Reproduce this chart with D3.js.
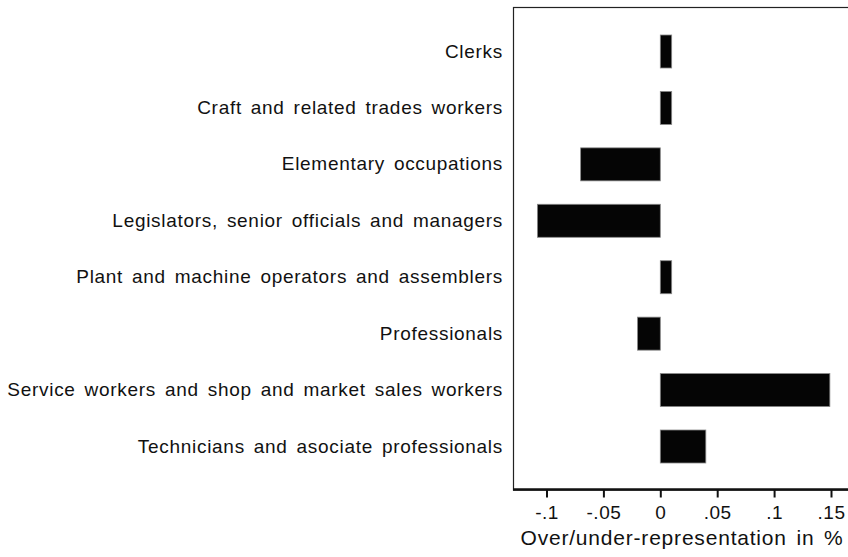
<!DOCTYPE html>
<html><head><meta charset="utf-8">
<script src="https://cdn.jsdelivr.net/npm/d3@7"></script>
<style>html,body{margin:0;padding:0;background:#fff;}svg{display:block;}</style>
</head><body>
<script>
const categories = [
  "Clerks",
  "Craft and related trades workers",
  "Elementary occupations",
  "Legislators, senior officials and managers",
  "Plant and machine operators and assemblers",
  "Professionals",
  "Service workers and shop and market sales workers",
  "Technicians and asociate professionals"
];
const values = [0.010, 0.010, -0.070, -0.108, 0.010, -0.020, 0.149, 0.040];
const tickValues = [-0.1, -0.05, 0, 0.05, 0.1, 0.15];
const tickLabels = ["-.1", "-.05", "0", ".05", ".1", ".15"];
const xTitle = "Over/under-representation in %";

const W = 848, H = 557;
const svg = d3.select("body").append("svg").attr("width", W).attr("height", H);
const font = "'Liberation Sans', Arial, sans-serif";

const plotLeft = 513, plotTop = 7, plotBottom = 489.5, plotRight = 870;
const x = d3.scaleLinear().domain([0, 0.15]).range([660.3, 831]);
const y = d3.scalePoint().domain(categories).range([51.5, 446.5]);
const barH = 33;

// frame
svg.append("rect").attr("x", plotLeft + 0.5).attr("y", plotTop + 0.5)
  .attr("width", plotRight - plotLeft).attr("height", plotBottom - plotTop)
  .attr("fill", "none").attr("stroke", "#222").attr("stroke-width", 1.2);

// bars
svg.append("g").selectAll("rect").data(categories).join("rect")
  .attr("x", (d, i) => x(Math.min(0, values[i])))
  .attr("y", d => y(d) - barH / 2)
  .attr("width", (d, i) => Math.abs(x(values[i]) - x(0)))
  .attr("height", barH)
  .attr("fill", "#050505").attr("stroke", "#888").attr("stroke-width", 0.8);

// category labels
svg.append("g").selectAll("text").data(categories).join("text")
  .attr("x", 503).attr("y", d => y(d)).attr("dy", "0.32em")
  .attr("text-anchor", "end").attr("font-family", font).attr("font-size", 19)
  .attr("letter-spacing", 0.7).attr("word-spacing", 3)
  .attr("fill", "#111").text(d => d);

// x axis
const axis = d3.axisBottom(x).tickValues(tickValues)
  .tickFormat((d, i) => tickLabels[i]).tickSize(8).tickPadding(10);
const gx = svg.append("g").attr("transform", `translate(0,${plotBottom})`).call(axis);
gx.select(".domain").attr("d", `M${plotLeft},0H${plotRight}`).attr("stroke", "#111").attr("stroke-width", 2.5);
gx.selectAll(".tick line").attr("stroke", "#111").attr("stroke-width", 2);
gx.selectAll(".tick text").attr("font-family", font).attr("font-size", 19)
  .attr("letter-spacing", 0.5).attr("fill", "#111").attr("dy", "0.62em");

svg.append("text").attr("x", 682).attr("y", 545).attr("text-anchor", "middle")
  .attr("font-family", font).attr("font-size", 21).attr("letter-spacing", 0.8).attr("word-spacing", 3)
  .attr("fill", "#111").text(xTitle);
</script>
</body></html>
